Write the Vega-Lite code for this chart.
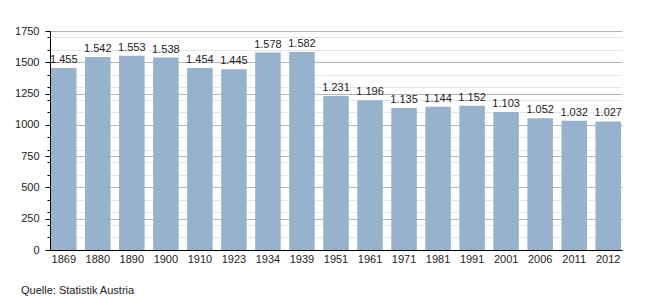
{
  "$schema": "https://vega.github.io/schema/vega-lite/v6.json",
  "width": 572,
  "height": 219,
  "autosize": {"type": "none"},
  "padding": {"left": 50, "top": 31, "right": 28, "bottom": 50},
  "background": "#ffffff",
  "config": {
    "view": {"stroke": null},
    "font": "Liberation Sans",
    "locale": {"number": {"decimal": ",", "thousands": ".", "grouping": [3], "currency": ["", " €"]}}
  },
  "title": {
    "text": "Quelle: Statistik Austria",
    "orient": "bottom",
    "anchor": "start",
    "frame": "group",
    "fontSize": 11,
    "fontWeight": "normal",
    "font": "Liberation Sans",
    "color": "#222222",
    "dx": -29,
    "offset": 21
  },
  "data": {
    "values": [
      {"jahr": "1869", "wert": 1455},
      {"jahr": "1880", "wert": 1542},
      {"jahr": "1890", "wert": 1553},
      {"jahr": "1900", "wert": 1538},
      {"jahr": "1910", "wert": 1454},
      {"jahr": "1923", "wert": 1445},
      {"jahr": "1934", "wert": 1578},
      {"jahr": "1939", "wert": 1582},
      {"jahr": "1951", "wert": 1231},
      {"jahr": "1961", "wert": 1196},
      {"jahr": "1971", "wert": 1135},
      {"jahr": "1981", "wert": 1144},
      {"jahr": "1991", "wert": 1152},
      {"jahr": "2001", "wert": 1103},
      {"jahr": "2006", "wert": 1052},
      {"jahr": "2011", "wert": 1032},
      {"jahr": "2012", "wert": 1027}
    ]
  },
  "encoding": {
    "x": {
      "field": "jahr",
      "type": "nominal",
      "sort": null,
      "scale": {"paddingInner": 0.25, "paddingOuter": 0.03},
      "axis": {
        "title": null,
        "labelAngle": 0,
        "labelFontSize": 11,
        "labelColor": "#222222",
        "labelPadding": 3,
        "ticks": false,
        "domainColor": "#000000",
        "domainWidth": 1
      }
    }
  },
  "layer": [
    {
      "mark": {"type": "bar", "color": "#97b2cd"},
      "encoding": {
        "y": {
          "field": "wert",
          "type": "quantitative",
          "scale": {"domain": [0, 1750], "nice": false},
          "axis": {
            "orient": "left",
            "title": null,
            "values": [0, 100, 200, 300, 400, 500, 600, 700, 800, 900, 1000, 1100, 1200, 1300, 1400, 1500, 1600, 1700],
            "labels": false,
            "domain": false,
            "ticks": true,
            "tickSize": 3,
            "tickColor": "#000000",
            "grid": true,
            "gridColor": "#e6e6e6",
            "gridWidth": 1
          }
        }
      }
    },
    {
      "mark": {"type": "text", "baseline": "bottom", "dy": -3, "fontSize": 11, "color": "#222222", "font": "Liberation Sans"},
      "encoding": {
        "y": {
          "field": "wert",
          "type": "quantitative",
          "scale": {"domain": [0, 1750], "nice": false},
          "axis": {
            "orient": "left",
            "title": null,
            "values": [0, 250, 500, 750, 1000, 1250, 1500, 1750],
            "format": "d",
            "labelFontSize": 11,
            "labelColor": "#222222",
            "labelPadding": 6,
            "domain": true,
            "domainColor": "#000000",
            "ticks": true,
            "tickSize": 5,
            "tickColor": "#000000",
            "grid": true,
            "gridColor": "#b4b4b4",
            "gridWidth": 1
          }
        },
        "text": {"field": "wert", "type": "quantitative", "format": ",d"}
      }
    }
  ],
  "resolve": {"axis": {"y": "independent"}}
}
